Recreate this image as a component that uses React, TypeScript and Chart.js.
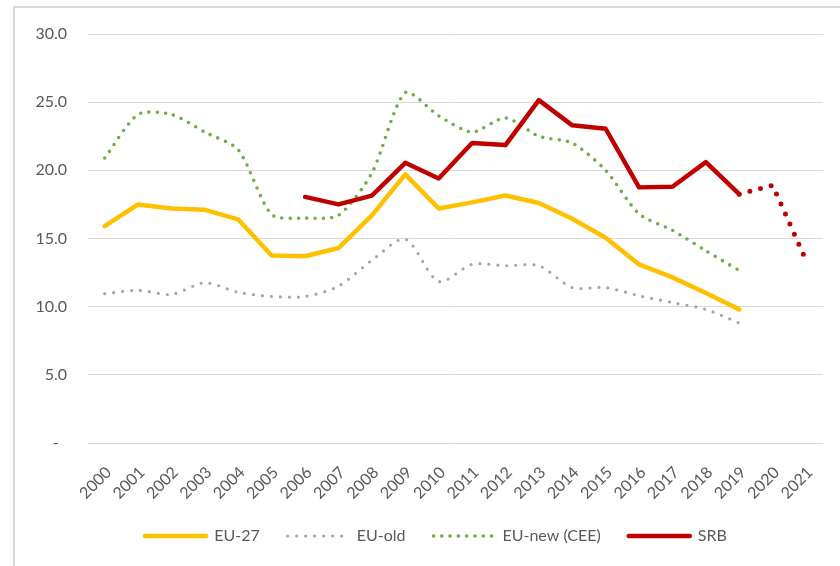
import React, { useEffect, useRef } from "react";
import { Chart, registerables } from "chart.js";

Chart.register(...registerables);

const years = [
  "2000", "2001", "2002", "2003", "2004", "2005", "2006", "2007", "2008", "2009", "2010",
  "2011", "2012", "2013", "2014", "2015", "2016", "2017", "2018", "2019", "2020", "2021",
];

const eu27 = [15.9, 17.5, 17.2, 17.1, 16.4, 13.75, 13.7, 14.3, 16.7, 19.7, 17.2, 17.65, 18.15, 17.6, 16.45, 15.05, 13.1, 12.15, 11.0, 9.8, null, null];
const euOld = [10.95, 11.2, 10.9, 11.75, 11.05, 10.75, 10.75, 11.5, 13.4, 14.95, 11.85, 13.1, 13.0, 13.0, 11.4, 11.4, 10.8, 10.3, 9.8, 8.8, null, null];
const euNew = [20.9, 24.1, 24.1, 22.8, 21.5, 16.75, 16.5, 16.7, 19.8, 25.7, 24.0, 22.8, 23.85, 22.5, 22.0, 20.0, 16.8, 15.6, 14.1, 12.65, null, null];
const srb = [null, null, null, null, null, null, 18.05, 17.5, 18.15, 20.55, 19.4, 22.0, 21.85, 25.15, 23.3, 23.05, 18.75, 18.8, 20.6, 18.25, 18.9, 13.4];

const yTicks = [0, 5, 10, 15, 20, 25, 30];

const FONT = "Lato, 'Open Sans', sans-serif";
const TEXT = "#595959";

const legendShift = {
  id: "legendShift",
  afterLayout(chart: any) {
    if (chart.legend) chart.legend.left += 49;
  },
};

export default function App() {
  const ref = useRef<HTMLCanvasElement | null>(null);

  useEffect(() => {
    if (!ref.current) return;
    const chart = new Chart(ref.current, {
      type: "line",
      data: {
        labels: years,
        datasets: [
          {
            label: "EU-27",
            data: eu27,
            borderColor: "#FFC000",
            backgroundColor: "#FFC000",
            borderWidth: 4.5,
            borderCapStyle: "round",
            borderJoinStyle: "round",
            tension: 0,
            pointRadius: 0,
            order: 3,
          },
          {
            label: "EU-old",
            data: euOld,
            borderColor: "#A6A6A6",
            backgroundColor: "#A6A6A6",
            borderWidth: 3.2,
            borderDash: [0, 9],
            borderCapStyle: "round",
            tension: 0.28,
            pointRadius: 0,
            order: 4,
          },
          {
            label: "EU-new (CEE)",
            data: euNew,
            borderColor: "#70AD47",
            backgroundColor: "#70AD47",
            borderWidth: 3.6,
            borderDash: [0, 8.3],
            borderCapStyle: "round",
            tension: 0.25,
            pointRadius: 0,
            order: 2,
          },
          {
            label: "SRB",
            data: srb,
            borderColor: "#C00000",
            backgroundColor: "#C00000",
            borderWidth: 4.5,
            borderCapStyle: "round",
            borderJoinStyle: "round",
            tension: 0,
            pointRadius: 0,
            order: 1,
            segment: {
              borderDash: (ctx: any) => (ctx.p0DataIndex >= 19 ? [0, 11] : undefined),
              borderWidth: (ctx: any) => (ctx.p0DataIndex >= 19 ? 5 : undefined),
            },
          } as any,
        ],
      },
      plugins: [legendShift],
      options: {
        animation: false,
        responsive: false,
        maintainAspectRatio: false,
        layout: { padding: { left: 0, right: 17, top: 34, bottom: 12 } },
        plugins: {
          tooltip: { enabled: false },
          legend: {
            position: "bottom",
            labels: {
              usePointStyle: true,
              pointStyle: "line",
              pointStyleWidth: 61,
              padding: 28,
              color: TEXT,
              font: { family: FONT, size: 16 },
              sort: (a: any, b: any) => a.datasetIndex - b.datasetIndex,
              generateLabels: (c: any) => {
                const items = (Chart.defaults.plugins.legend.labels as any).generateLabels(c);
                return items.map((it: any) => {
                  const ds: any = c.data.datasets[it.datasetIndex];
                  return {
                    ...it,
                    lineDash: ds.borderDash || [],
                    lineCap: "round",
                    lineWidth: ds.borderWidth,
                    strokeStyle: ds.borderColor,
                    fillStyle: ds.borderColor,
                  };
                });
              },
            },
          },
        },
        scales: {
          x: {
            offset: true,
            grid: { display: false, drawTicks: false },
            border: { display: false },
            ticks: {
              color: TEXT,
              font: { family: FONT, size: 16 },
              minRotation: 45,
              maxRotation: 45,
              autoSkip: false,
              padding: 20,
              labelOffset: 4,
            },
            afterFit: (scale: any) => {
              scale.height = 57;
            },
          },
          y: {
            min: 0,
            max: 30,
            afterBuildTicks: (scale: any) => {
              scale.ticks = yTicks.map((v) => ({ value: v }));
            },
            grid: { color: "#D9D9D9", lineWidth: 1, drawTicks: false },
            border: { display: false },
            ticks: {
              color: TEXT,
              font: { family: FONT, size: 16 },
              padding: 21,
              callback: (v: any) => (Number(v) === 0 ? "-  " : Number(v).toFixed(1)),
            },
            afterFit: (scale: any) => {
              scale.width = 88;
            },
          },
        },
      },
    });
    return () => chart.destroy();
  }, []);

  return (
    <div style={{ position: "fixed", left: 0, top: 0, width: 840, height: 566, background: "#fff", overflow: "hidden" }}>
      <div
        style={{
          position: "absolute",
          left: 13,
          top: 6,
          width: 900,
          height: 700,
          border: "2px solid #D9D9D9",
          boxSizing: "border-box",
        }}
      />
      <canvas ref={ref} width={840} height={566} style={{ position: "absolute", left: 0, top: 0 }} />
    </div>
  );
}
